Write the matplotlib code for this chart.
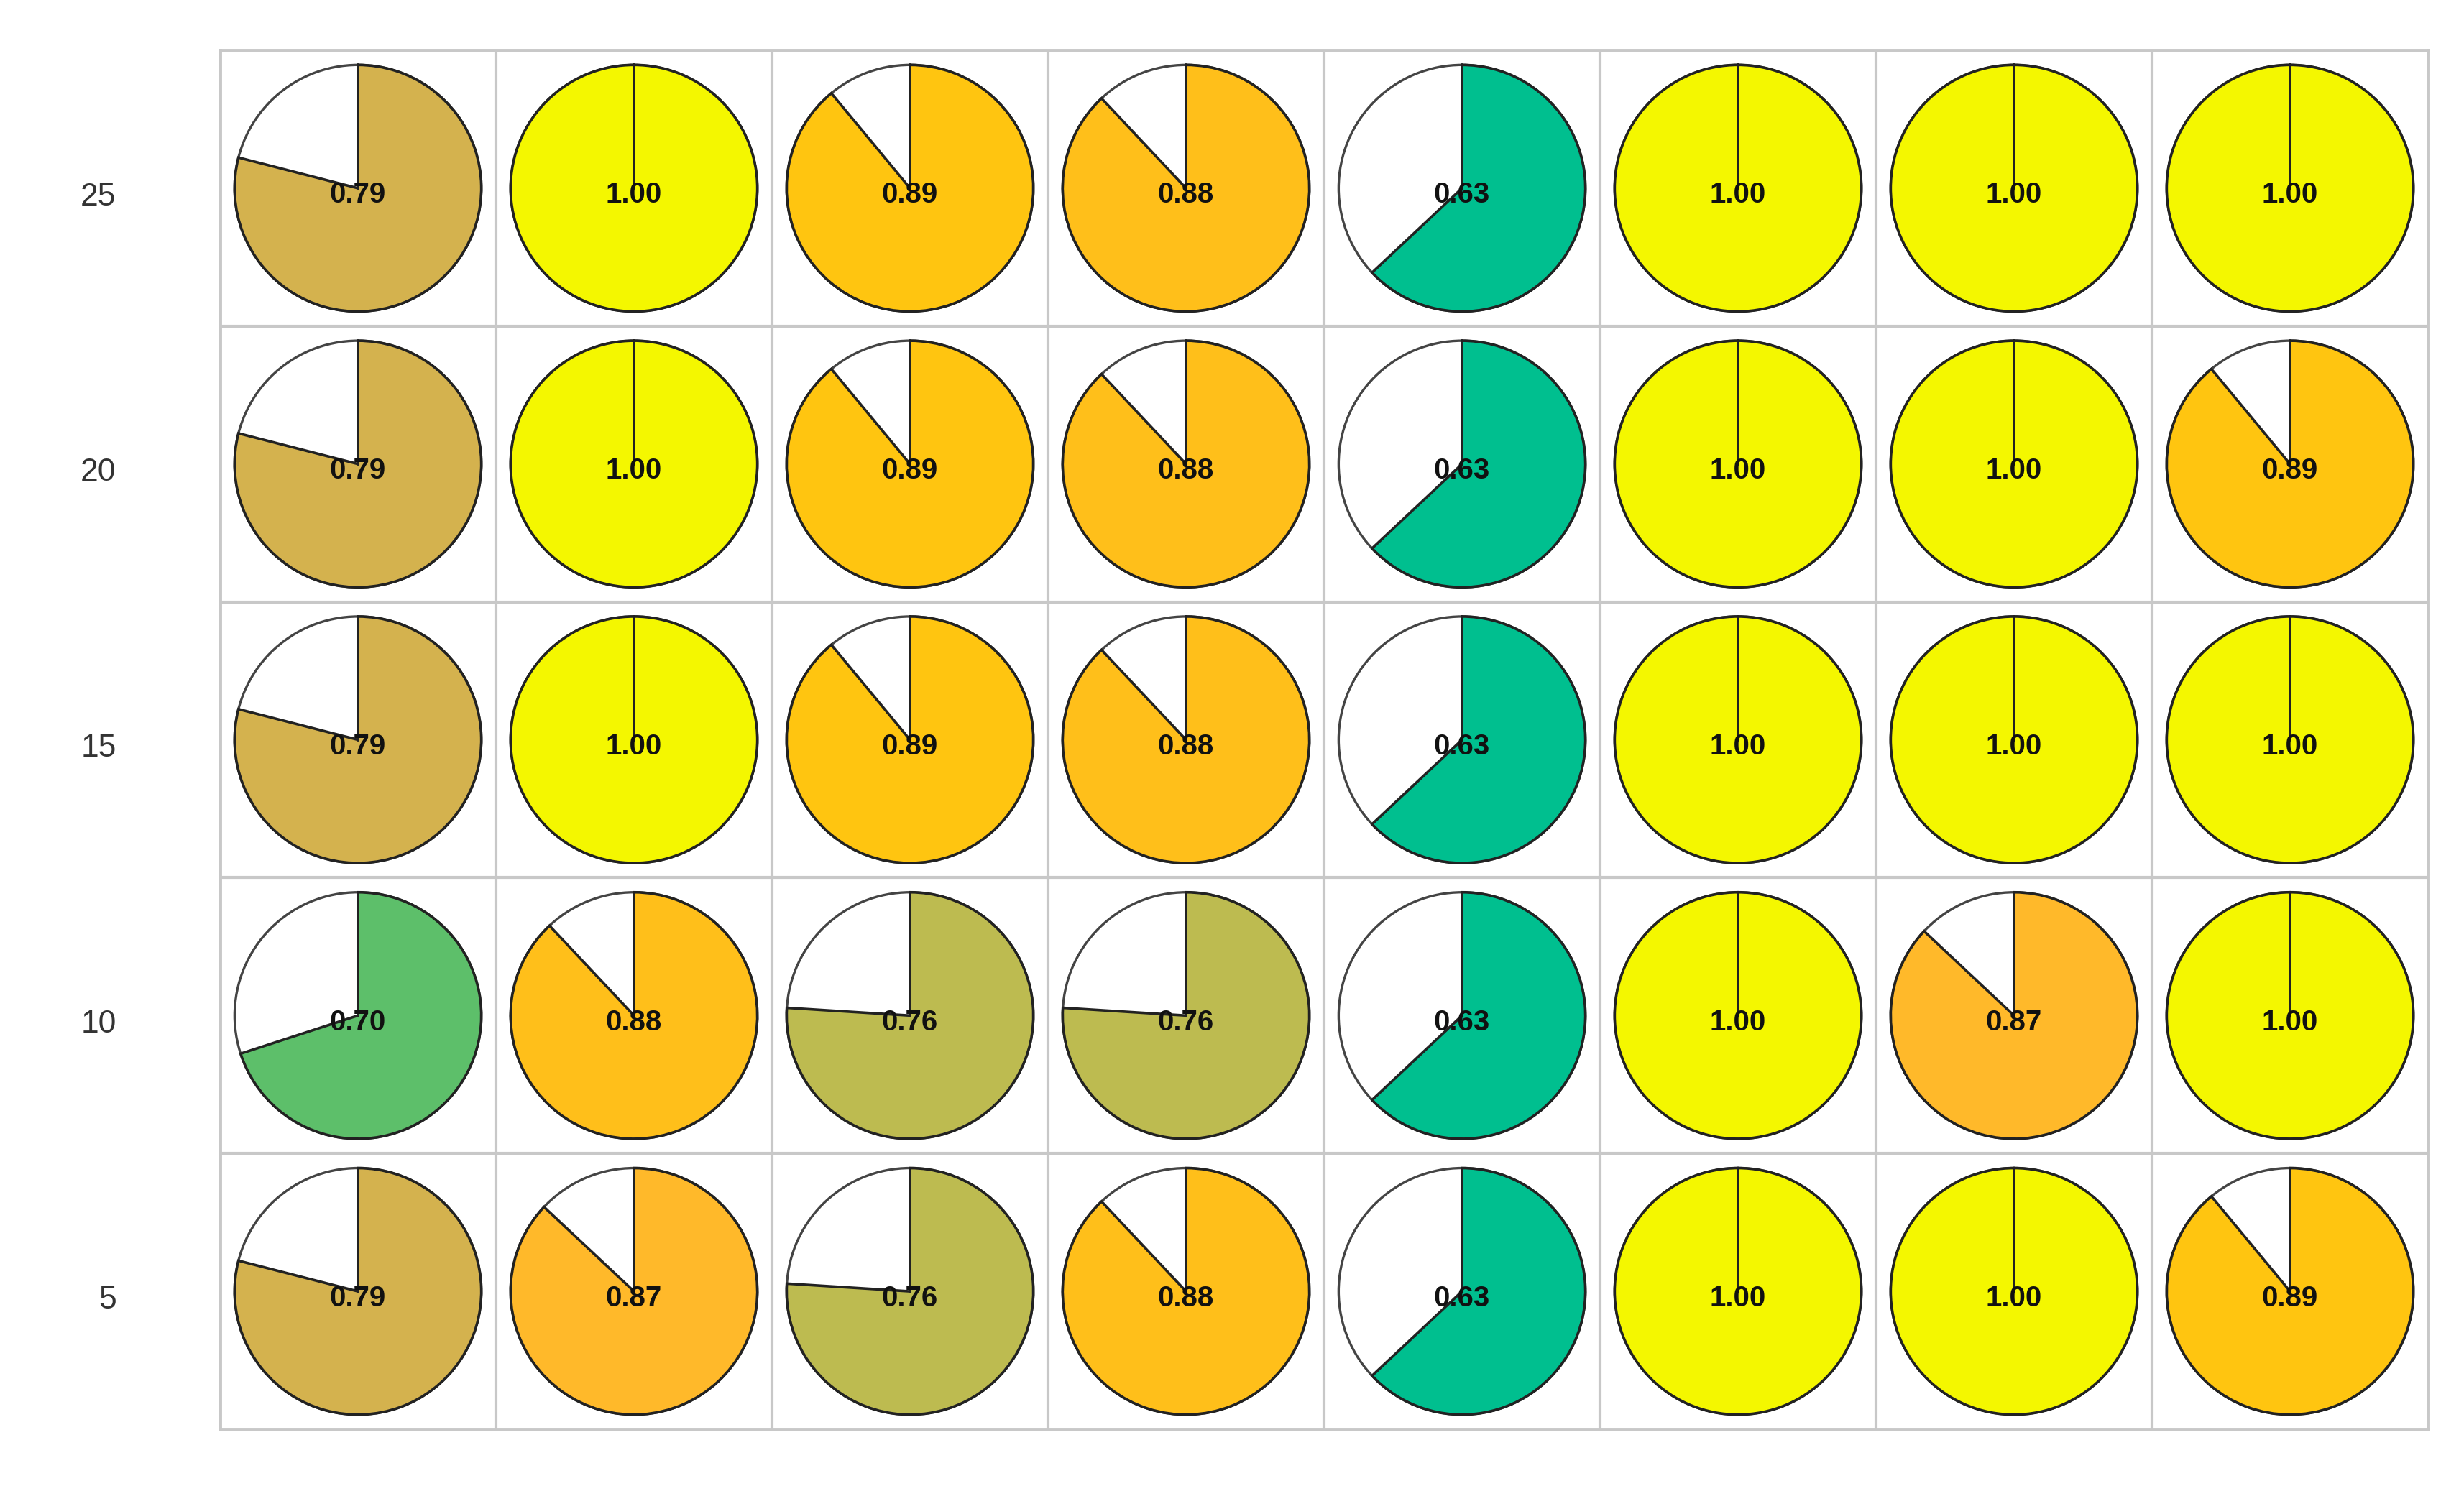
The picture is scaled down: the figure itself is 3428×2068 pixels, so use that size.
import numpy as np
import matplotlib.pyplot as plt
from matplotlib.patches import Wedge

plt.rcParams['font.family'] = ['Liberation Sans', 'DejaVu Sans']

# row labels (top to bottom) and the fraction shown in each pie
row_labels = [25, 20, 15, 10, 5]
vals_25 = [0.79, 1.00, 0.89, 0.88, 0.63, 1.00, 1.00, 1.00]
vals_20 = [0.79, 1.00, 0.89, 0.88, 0.63, 1.00, 1.00, 0.89]
vals_15 = [0.79, 1.00, 0.89, 0.88, 0.63, 1.00, 1.00, 1.00]
vals_10 = [0.70, 0.88, 0.76, 0.76, 0.63, 1.00, 0.87, 1.00]
vals_5 = [0.79, 0.87, 0.76, 0.88, 0.63, 1.00, 1.00, 0.89]
all_vals = [vals_25, vals_20, vals_15, vals_10, vals_5]

# fill colour for each value
value_colors = {
    0.63: '#00bf8f',
    0.70: '#5dbf6a',
    0.76: '#bdbb50',
    0.79: '#d4b24e',
    0.87: '#ffb92a',
    0.88: '#ffbf1a',
    0.89: '#ffc510',
    1.00: '#f4f700',
}

n_rows = len(row_labels)
n_cols = len(vals_25)

fig = plt.figure(figsize=(34.28, 20.68), dpi=100)
ax = fig.add_axes([306 / 3428, 79 / 2068, 3072 / 3428, 1919 / 2068])
ax.set_xlim(0, n_cols)
ax.set_ylim(0, n_rows)

grid_col = '#c8c8c8'
for x in range(1, n_cols):
    ax.axvline(x, color=grid_col, lw=3, zorder=0)
for y in range(1, n_rows):
    ax.axhline(y, color=grid_col, lw=3, zorder=0)
for s in ax.spines.values():
    s.set_color(grid_col)
    s.set_linewidth(3.5)

r = 0.447
edge = '#222222'
for i, vals in enumerate(all_vals):
    cy = n_rows - i - 0.5
    for j, v in enumerate(vals):
        cx = j + 0.5
        # empty part (white), then the filled part clockwise from 12 o'clock
        ax.add_patch(Wedge((cx, cy), r, -270, 90, facecolor='white',
                           edgecolor='#444444', lw=2.4))
        span = min(360 * v, 359.99)
        ax.add_patch(Wedge((cx, cy), r, 90 - span, 90,
                           facecolor=value_colors[v], edgecolor=edge, lw=2.6))
        ax.plot([cx, cx], [cy, cy + r], color=edge, lw=2.6)
        ax.text(cx, cy - 0.025, f'{v:.2f}', ha='center', va='center',
                fontsize=29, fontweight='bold', color='#111111')

ax.set_xticks([])
ax.set_yticks(np.arange(n_rows) + 0.5 - 0.02)
ax.set_yticklabels(row_labels[::-1])
ax.tick_params(axis='y', length=0, pad=104, labelsize=32, labelcolor='#333333')

fig.savefig('out.png', dpi=100, facecolor='white')
